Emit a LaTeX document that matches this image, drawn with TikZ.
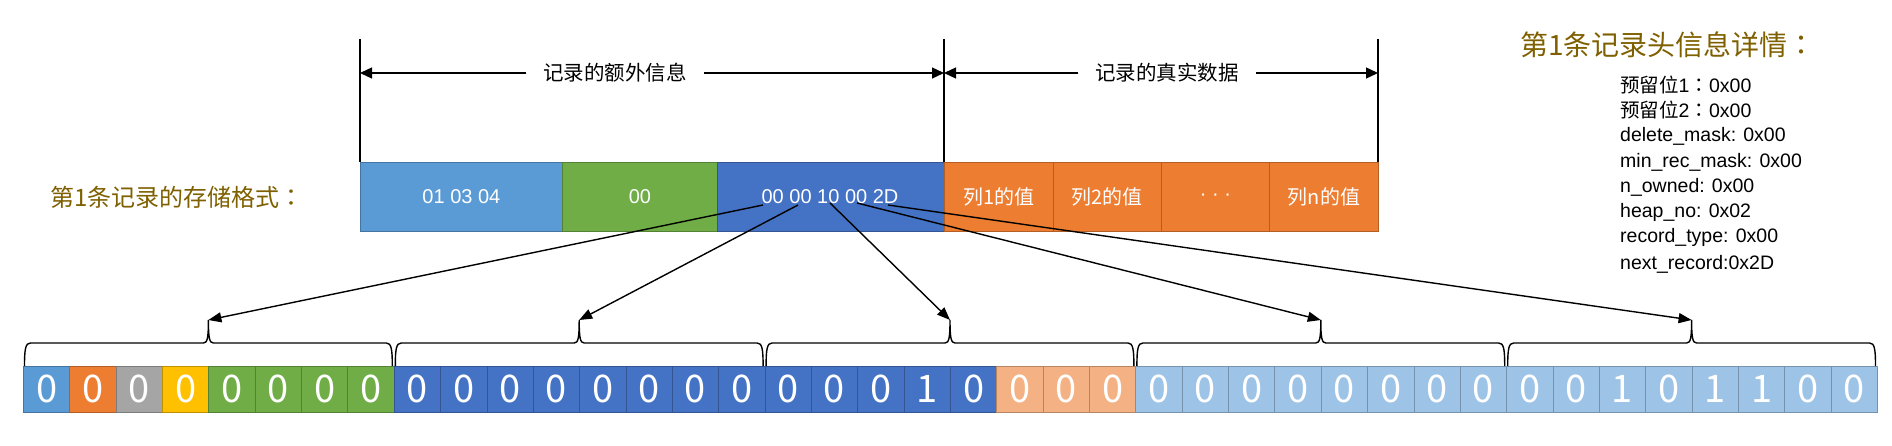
\documentclass[tikz,border=0pt]{standalone}
\usepackage{fontspec}
\setmainfont{Liberation Sans}
\newfontfamily\cjk{Noto Sans CJK SC}
\newfontfamily\jpk{Noto Sans CJK JP}
\usetikzlibrary{arrows.meta}
\definecolor{cLB}{HTML}{5B9BD5}
\definecolor{cGR}{HTML}{70AD47}
\definecolor{cBL}{HTML}{4472C4}
\definecolor{cOR}{HTML}{ED7D31}
\definecolor{cGY}{HTML}{A5A5A5}
\definecolor{cGD}{HTML}{FFC000}
\definecolor{cLO}{HTML}{F4B183}
\definecolor{cPB}{HTML}{9DC3E6}
\definecolor{cOL}{HTML}{7F6000}
\newcommand{\myfs}[1]{\fontsize{#1}{#1}\selectfont}
\begin{document}
\begin{tikzpicture}[x=1pt,y=-1pt,
  topbox/.style={fill=#1, draw=#1!75!black, line width=0.8pt, text=white,
    inner sep=0pt, minimum height=69pt, anchor=north west, font=\myfs{20}},
  bitbox/.style={fill=#1, draw=#1!75!black, line width=0.8pt, text=white,
    inner sep=0pt, minimum height=46pt, minimum width=46.35pt, anchor=north west, font=\cjk\myfs{38}},
  dimlabel/.style={fill=white, inner sep=0pt, inner xsep=17pt, minimum height=24pt, font=\cjk\myfs{20.5}},
  guide/.style={line width=1.3pt},
  dimarrow/.style={line width=1.3pt, -{Triangle[length=12pt,width=11pt]}},
  bitarrow/.style={line width=1.4pt, -{Triangle[length=13pt,width=10pt]}},
  bracestyle/.style={line width=1.4pt},
  info/.style={anchor=west, inner sep=0pt, font=\myfs{19.5}}
]
\useasboundingbox (0,0) rectangle (1892,446);

% left caption
\node[anchor=west, inner sep=0pt, text=cOL, font=\cjk\myfs{24}] (cap) at (50,197) {第1条记录的存储格式{\jpk ：}};

% top boxes
\node[topbox=cLB, minimum width=202pt] (h1) at (360,162) {01 03 04};
\node[topbox=cGR, minimum width=155pt] (h2) at (562,162) {00};
\node[topbox=cBL, minimum width=227pt] (h3) at (717,162) {};
\node[font=\myfs{20}, text=white, inner sep=0pt] (h3t) at (830,197) {00 00 10 00 2D};
\node[topbox=cOR, minimum width=109pt, font=\cjk\myfs{20}] (c1) at (944,162) {列1的值};
\node[topbox=cOR, minimum width=108pt, font=\cjk\myfs{20}] (c2) at (1053,162) {列2的值};
\node[topbox=cOR, minimum width=108pt] (c3) at (1161,162) {· · ·};
\node[topbox=cOR, minimum width=109pt, font=\cjk\myfs{20}] (c4) at (1269,162) {列n的值};

% guide lines
\coordinate (g1t) at (360,39); \coordinate (g1b) at (360,162);
\coordinate (g2t) at (944,39); \coordinate (g2b) at (944,162);
\coordinate (g3t) at (1378,39); \coordinate (g3b) at (1378,162);
\draw[guide] (g1t) -- (g1b);
\draw[guide] (g2t) -- (g2b);
\draw[guide] (g3t) -- (g3b);

% dimension arrows
\coordinate (d1a) at (360,73); \coordinate (d1b) at (944,73);
\coordinate (d2a) at (944,73); \coordinate (d2b) at (1378,73);
\node[dimlabel] (lab1) at (615,73) {记录的额外信息};
\node[dimlabel] (lab2) at (1167,73) {记录的真实数据};
\draw[dimarrow] (lab1.west) -- (d1a);
\draw[dimarrow] (lab1.east) -- (d1b);
\draw[dimarrow] (lab2.west) -- (d2a);
\draw[dimarrow] (lab2.east) -- (d2b);

% bits
\foreach \v/\c [count=\i from 0] in {
  0/cLB,0/cOR,0/cGY,0/cGD,0/cGR,0/cGR,0/cGR,0/cGR,
  0/cBL,0/cBL,0/cBL,0/cBL,0/cBL,0/cBL,0/cBL,0/cBL,
  0/cBL,0/cBL,0/cBL,1/cBL,0/cBL,0/cLO,0/cLO,0/cLO,
  0/cPB,0/cPB,0/cPB,0/cPB,0/cPB,0/cPB,0/cPB,0/cPB,
  0/cPB,0/cPB,1/cPB,0/cPB,1/cPB,1/cPB,0/cPB,0/cPB}{
  \node[bitbox=\c] (b\i) at ({23+46.35*\i},366) {\v};
}

% braces
\foreach \k in {0,...,4}{
  \pgfmathsetmacro{\xs}{23+370.8*\k+1.5}
  \pgfmathsetmacro{\xm}{23+370.8*\k+185.4}
  \pgfmathsetmacro{\xe}{23+370.8*(\k+1)-1.5}
  \coordinate (t\k) at (\xm,320);
  \draw[bracestyle] (\xs,366) .. controls (\xs,349) and (\xs+1,343) .. (\xs+6,343)
    -- (\xm-5,343) .. controls (\xm-1,343) and (\xm,338) .. (t\k)
    .. controls (\xm,338) and (\xm+1,343) .. (\xm+5,343)
    -- (\xe-6,343) .. controls (\xe-1,343) and (\xe,349) .. (\xe,366);
}

% arrow starts
\coordinate (s0) at (763,205);
\coordinate (s1) at (798,205);
\coordinate (s2) at (830,203);
\coordinate (s3) at (857,203);
\coordinate (s4) at (888,205);
\foreach \k in {0,...,4}{
  \draw[bitarrow] (s\k) -- (t\k);
}

% right panel
\node[anchor=west, inner sep=0pt, text=cOL, font=\cjk\myfs{28}] (title) at (1520,45) {第1条记录头信息详情{\jpk ：}};
\node[info] (i1) at (1620,85) {{\cjk 预留位}1{\jpk ：}0x00};
\node[info] (i2) at (1620,110) {{\cjk 预留位}2{\jpk ：}0x00};
\node[info] (i3) at (1620,136) {delete\_mask: 0x00};
\node[info] (i4) at (1620,162) {min\_rec\_mask: 0x00};
\node[info] (i5) at (1620,187) {n\_owned: 0x00};
\node[info] (i6) at (1620,212) {heap\_no: 0x02};
\node[info] (i7) at (1620,237) {record\_type: 0x00};
\node[info] (i8) at (1620,264) {next\_record:0x2D};
\end{tikzpicture}
\end{document}
